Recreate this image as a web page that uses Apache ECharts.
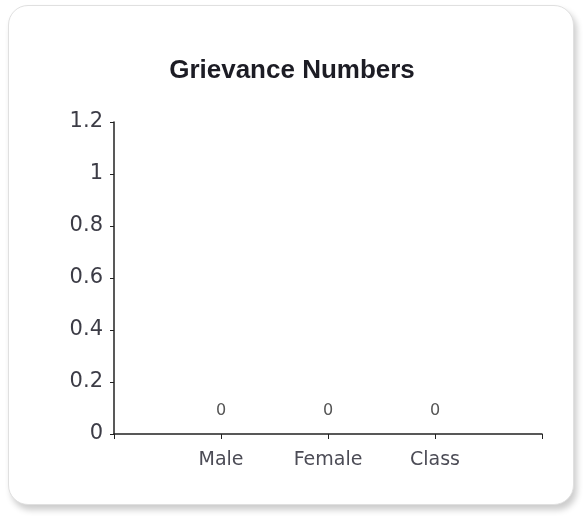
<!DOCTYPE html>
<html>
<head>
<meta charset="utf-8">
<script src="https://cdn.jsdelivr.net/npm/echarts@6/dist/echarts.min.js"></script>
<style>
  html, body { margin: 0; padding: 0; background: #fff; }
  #frame {
    position: absolute; left: 8px; top: 5px; width: 564px; height: 498px;
    border: 1px solid #e0e0e0; border-radius: 20px;
    box-shadow: 3px 5px 6px rgba(0,0,0,0.2);
    background: #fff;
  }
  #chart { position: absolute; left: 0; top: 0; width: 584px; height: 520px; }
</style>
</head>
<body>
<div id="frame"></div>
<div id="chart"></div>
<script>
const categories = ['Male', 'Female', 'Class'];
const grievances = [0, 0, 0];
const yTicks = [0, 0.2, 0.4, 0.6, 0.8, 1, 1.2];

const chart = echarts.init(document.getElementById('chart'), null, { renderer: 'canvas' });

// categories sit on x = 1..n, axis runs one slot past the last
const points = grievances.map((v, i) => [i + 1, v]);

chart.setOption({
  animation: false,
  title: {
    text: 'Grievance Numbers',
    left: 'center',
    top: 53,
    textStyle: { fontFamily: 'Liberation Sans', fontSize: 26, fontWeight: 'bold', color: '#1c1c24' }
  },
  grid: { left: 114, right: 42, top: 122, bottom: 86 },
  xAxis: {
    type: 'value',
    min: 0,
    max: categories.length + 1,
    interval: 1,
    axisLine: { lineStyle: { color: '#222', width: 1.5 } },
    axisTick: { show: true, length: 5, lineStyle: { color: '#222' } },
    splitLine: { show: false },
    axisLabel: {
      margin: 17,
      fontFamily: 'DejaVu Sans',
      fontSize: 19,
      color: '#4c4c56',
      formatter: v => categories[v - 1] || ''
    }
  },
  yAxis: {
    type: 'value',
    min: yTicks[0],
    max: yTicks[yTicks.length - 1],
    interval: 0.2,
    axisLine: { show: true, lineStyle: { color: '#222', width: 1.5 } },
    axisTick: { show: true, length: 4, lineStyle: { color: '#222' } },
    splitLine: { show: false },
    axisLabel: {
      margin: 11,
      fontFamily: 'DejaVu Sans',
      fontSize: 21,
      color: '#3c3c46',
      formatter: v => String(+v.toFixed(1))
    }
  },
  series: [{
    type: 'bar',
    data: points,
    barWidth: 40,
    itemStyle: { color: '#4a7ebb' },
    label: {
      show: true,
      position: 'top',
      distance: 15,
      fontFamily: 'DejaVu Sans',
      fontSize: 16,
      color: '#555',
      formatter: p => String(p.data[1])
    }
  }]
});
</script>
</body>
</html>
